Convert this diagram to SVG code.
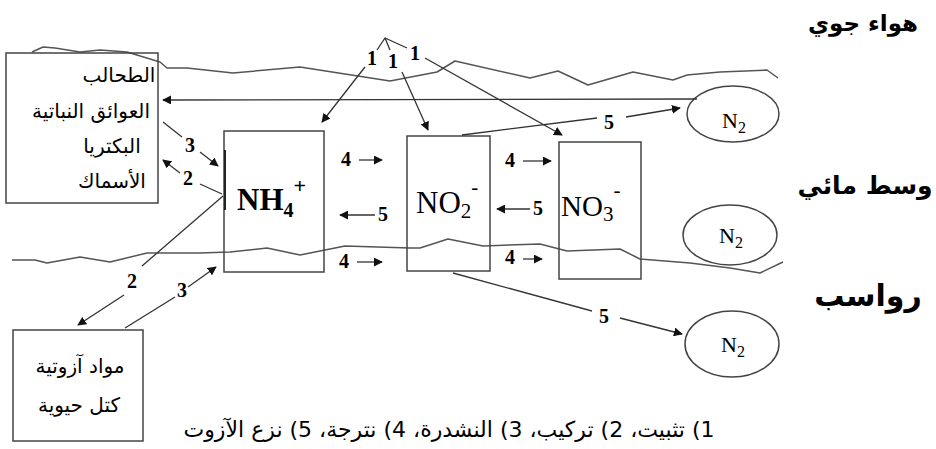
<svg xmlns="http://www.w3.org/2000/svg" width="936" height="449" viewBox="0 0 936 449">
<style>
.box{fill:none;stroke:#444;stroke-width:1.5}
.wave{fill:none;stroke:#555;stroke-width:1.5;stroke-linejoin:round}
.ln{fill:none;stroke:#333;stroke-width:1.3}
.ar{fill:none;stroke:#333;stroke-width:1.3;marker-end:url(#ah)}
.num{font-family:"Liberation Serif",serif;font-weight:bold;font-size:20px;fill:#000;text-anchor:middle}
.chem{font-family:"Liberation Serif",serif;fill:#000}
.ara{font-family:"DejaVu Sans","Noto Sans",sans-serif;fill:#000;text-anchor:middle}
</style>
<defs>
<marker id="ah" viewBox="0 0 10 10" refX="9" refY="5" markerWidth="9" markerHeight="9" markerUnits="userSpaceOnUse" orient="auto">
<path d="M0,0 L10,5 L0,10 z" fill="#111"/>
</marker>
</defs>
<rect width="936" height="449" fill="#fff"/>

<g id="layers">
<polyline class="wave" points="32,52 43,47 55,48 80,52 100,50 127,52 160,62 167,68 187,68 233,73 300,67 390,81 437,72 455,61 530,78 558,71 588,85 633,72 673,80 687,75 720,72 767,70 778,78"/>
<polyline class="wave" points="12,260 35,260 47,263 80,257 110,262 147,253 200,253 230,252 267,248 300,255 345,246 410,248 420,248 448,239 483,246 540,244 567,251 620,249 640,259 690,263 730,268 760,273 783,262"/>
<text class="ara" x="863" y="31" font-size="23" font-weight="bold">هواء جوي</text>
<text class="ara" x="865" y="194" font-size="25" font-weight="bold">وسط مائي</text>
<text class="ara" x="868" y="306" font-size="30" font-weight="bold">رواسب</text>
</g>

<g id="organisms">
<rect class="box" x="6" y="53" width="152" height="150"/>
<text class="ara" x="119" y="82" font-size="20">الطحالب</text>
<text class="ara" x="91" y="118" font-size="20">العوائق النباتية</text>
<text class="ara" x="112" y="153" font-size="20">البكتريا</text>
<text class="ara" x="112" y="188" font-size="20">الأسماك</text>
</g>

<g id="organic">
<rect class="box" x="13" y="330" width="130" height="111"/>
<text class="ara" x="80" y="373" font-size="20">مواد آزوتية</text>
<text class="ara" x="79" y="412" font-size="20">كتل حيوية</text>
</g>

<g id="nh4">
<rect class="box" x="224" y="131" width="100" height="141"/>
<line x1="225" y1="150" x2="225" y2="210" stroke="#222" stroke-width="2"/>
<text class="chem" x="237" y="210" font-size="31" font-weight="bold">NH<tspan font-size="20" dy="7">4</tspan><tspan font-size="22" dy="-24">+</tspan></text>
</g>

<g id="no2">
<rect class="box" x="407" y="136" width="83" height="135"/>
<text class="chem" x="416" y="213" font-size="31">NO<tspan font-size="21" dy="5">2</tspan><tspan font-size="21" dy="-24">-</tspan></text>
</g>

<g id="no3">
<rect class="box" x="559" y="142" width="82" height="137"/>
<text class="chem" x="561" y="216" font-size="29">NO<tspan font-size="21" dy="5">3</tspan><tspan font-size="21" dy="-24">-</tspan></text>
</g>

<g id="n2-top">
<ellipse class="box" cx="733" cy="114" rx="46" ry="28"/>
<text class="chem" x="722" y="128" font-size="22">N<tspan font-size="16" dy="5">2</tspan></text>
</g>
<g id="n2-mid">
<ellipse class="box" cx="730" cy="235" rx="47" ry="30"/>
<text class="chem" x="719" y="243" font-size="22">N<tspan font-size="16" dy="5">2</tspan></text>
</g>
<g id="n2-bot">
<ellipse class="box" cx="732" cy="344" rx="47" ry="33"/>
<text class="chem" x="721" y="352" font-size="22">N<tspan font-size="16" dy="5">2</tspan></text>
</g>

<g id="connectors">
<polyline class="ln" points="377,50 385,38 407,48"/>
<line class="ln" x1="385" y1="38" x2="390" y2="50"/>
<text class="num" x="372" y="65">1</text>
<text class="num" x="393" y="68">1</text>
<text class="num" x="415" y="60">1</text>
<line class="ar" x1="365" y1="67" x2="322" y2="122"/>
<line class="ar" x1="402" y1="72" x2="428" y2="130"/>
<line class="ar" x1="425" y1="58" x2="562" y2="135"/>

<line class="ar" x1="697" y1="99" x2="163" y2="100"/>

<line class="ln" x1="462" y1="135" x2="597" y2="118"/>
<text class="num" x="609" y="129">5</text>
<line class="ar" x1="626" y1="117" x2="680" y2="108"/>

<line class="ln" x1="453" y1="273" x2="592" y2="311"/>
<text class="num" x="604" y="323">5</text>
<line class="ar" x1="620" y1="318" x2="682" y2="334"/>

<line class="ln" x1="163" y1="122" x2="182" y2="137"/>
<text class="num" x="190" y="152">3</text>
<line class="ar" x1="200" y1="152" x2="218" y2="166"/>

<line class="ln" x1="222" y1="194" x2="200" y2="184"/>
<text class="num" x="188" y="185">2</text>
<line class="ar" x1="180" y1="173" x2="163" y2="160"/>

<line class="ln" x1="223" y1="196" x2="142" y2="266"/>
<text class="num" x="132" y="288">2</text>
<line class="ar" x1="124" y1="295" x2="78" y2="325"/>

<line class="ln" x1="125" y1="328" x2="175" y2="297"/>
<text class="num" x="182" y="297">3</text>
<line class="ar" x1="188" y1="287" x2="216" y2="267"/>

<text class="num" x="346" y="166" font-size="19">4</text>
<line class="ar" x1="359" y1="160" x2="382" y2="160"/>
<text class="num" x="510" y="167" font-size="19">4</text>
<line class="ar" x1="523" y1="161" x2="551" y2="161"/>
<line class="ar" x1="375" y1="215" x2="340" y2="215"/>
<text class="num" x="383" y="221" font-size="19">5</text>
<line class="ar" x1="530" y1="209" x2="497" y2="209"/>
<text class="num" x="538" y="215" font-size="19">5</text>
<text class="num" x="344" y="268" font-size="19">4</text>
<line class="ar" x1="357" y1="262" x2="382" y2="262"/>
<text class="num" x="510" y="264" font-size="19">4</text>
<line class="ar" x1="523" y1="259" x2="542" y2="259"/>
</g>

<g id="caption">
<text class="ara" x="449" y="437" font-size="22" direction="rtl">1) تثبيت، 2) تركيب، 3) النشدرة، 4) نترجة، 5) نزع الآزوت</text>
</g>
</svg>
